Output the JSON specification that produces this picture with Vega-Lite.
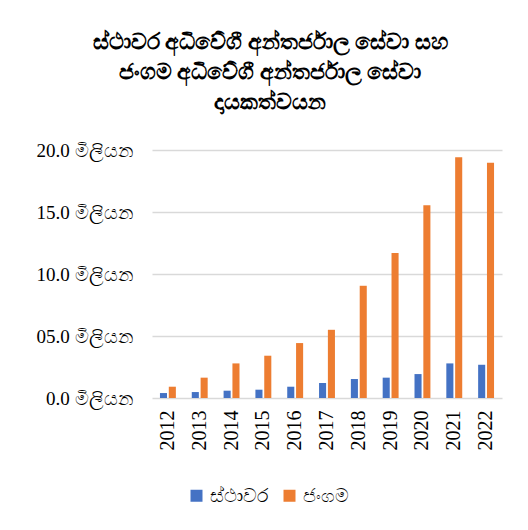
{
  "$schema": "https://vega.github.io/schema/vega-lite/v6.json",
  "autosize": "none",
  "width": 350,
  "height": 248,
  "padding": {"left": 152, "top": 150, "right": 26, "bottom": 132},
  "background": "white",
  "title": {
    "text": ["ස්ථාවර අධිවේගී අන්තර්ජාල සේවා සහ", "ජංගම අධිවේගී අන්තර්ජාල සේවා", "දායකත්වයන"],
    "font": "Liberation Serif",
    "fontSize": 22,
    "fontWeight": "bold",
    "color": "#000000",
    "lineHeight": 30,
    "anchor": "middle",
    "dx": -57,
    "offset": 27
  },
  "data": {
    "values": [
      {"year": "2012", "type": "ස්ථාවර", "value": 0.40},
      {"year": "2012", "type": "ජංගම", "value": 0.91},
      {"year": "2013", "type": "ස්ථාවර", "value": 0.48},
      {"year": "2013", "type": "ජංගම", "value": 1.64},
      {"year": "2014", "type": "ස්ථාවර", "value": 0.59},
      {"year": "2014", "type": "ජංගම", "value": 2.79},
      {"year": "2015", "type": "ස්ථාවර", "value": 0.67},
      {"year": "2015", "type": "ජංගම", "value": 3.41},
      {"year": "2016", "type": "ස්ථාවර", "value": 0.91},
      {"year": "2016", "type": "ජංගම", "value": 4.43},
      {"year": "2017", "type": "ස්ථාවර", "value": 1.21},
      {"year": "2017", "type": "ජංගම", "value": 5.50},
      {"year": "2018", "type": "ස්ථාවර", "value": 1.53},
      {"year": "2018", "type": "ජංගම", "value": 9.05},
      {"year": "2019", "type": "ස්ථාවර", "value": 1.64},
      {"year": "2019", "type": "ජංගම", "value": 11.70},
      {"year": "2020", "type": "ස්ථාවර", "value": 1.93},
      {"year": "2020", "type": "ජංගම", "value": 15.54},
      {"year": "2021", "type": "ස්ථාවර", "value": 2.79},
      {"year": "2021", "type": "ජංගම", "value": 19.41},
      {"year": "2022", "type": "ස්ථාවර", "value": 2.68},
      {"year": "2022", "type": "ජංගම", "value": 18.98}
    ]
  },
  "mark": {"type": "bar"},
  "encoding": {
    "x": {
      "field": "year",
      "type": "nominal",
      "scale": {"paddingInner": 0.5, "paddingOuter": 0.25},
      "axis": {
        "title": null,
        "labelAngle": -90,
        "labelFont": "Liberation Serif",
        "labelFontSize": 20,
        "labelColor": "#000000",
        "labelPadding": 12,
        "ticks": false,
        "domain": false,
        "grid": false
      }
    },
    "xOffset": {
      "field": "type",
      "type": "nominal",
      "sort": ["ස්ථාවර", "ජංගම"],
      "scale": {"paddingInner": 0.2}
    },
    "y": {
      "field": "value",
      "type": "quantitative",
      "scale": {"domain": [0, 20], "nice": false},
      "axis": {
        "title": null,
        "values": [0, 5, 10, 15, 20],
        "labelExpr": "datum.value == 5 ? '05.0 මිලියන' : format(datum.value, '.1f') + ' මිලියන'",
        "labelFont": "Liberation Serif",
        "labelFontSize": 19,
        "labelColor": "#000000",
        "labelPadding": 20,
        "ticks": false,
        "domain": false,
        "grid": true,
        "gridColor": "#d9d9d9",
        "gridWidth": 1.3
      }
    },
    "color": {
      "field": "type",
      "type": "nominal",
      "sort": ["ස්ථාවර", "ජංගම"],
      "scale": {"domain": ["ස්ථාවර", "ජංගම"], "range": ["#4472C4", "#ED7D31"]},
      "legend": {
        "title": null,
        "orient": "none",
        "legendX": 35,
        "legendY": 336,
        "direction": "horizontal",
        "symbolType": "square",
        "symbolSize": 144,
        "symbolStrokeWidth": 0,
        "labelFont": "Liberation Serif",
        "labelFontSize": 19,
        "labelColor": "#000000",
        "columnPadding": 12,
        "labelOffset": 4
      }
    }
  },
  "config": {
    "view": {"stroke": null}
  }
}
